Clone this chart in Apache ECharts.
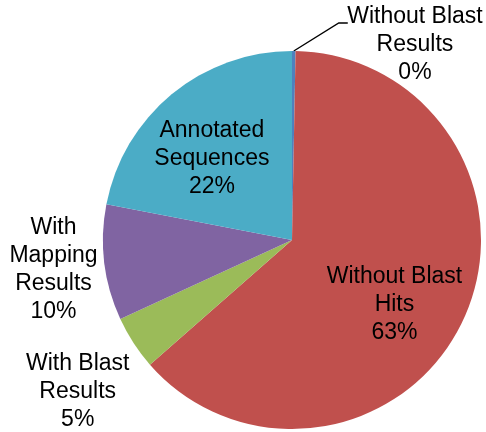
<!DOCTYPE html>
<html>
<head>
<meta charset="utf-8">
<script src="https://cdn.jsdelivr.net/npm/echarts@6/dist/echarts.min.js"></script>
<style>
  html, body { margin: 0; padding: 0; background: #fff; }
  #chart { width: 486px; height: 432px; }
</style>
</head>
<body>
<div id="chart"></div>
<script>
// Sequence categories (clockwise from 12 o'clock) and their shares
const categories = [
  'Without Blast\nResults',
  'Without Blast\nHits',
  'With Blast\nResults',
  'With\nMapping\nResults',
  'Annotated\nSequences'
];
const shares = [0.3, 63.3, 4.6, 9.9, 22.0];
const colors = ['#4F81BD', '#C0504D', '#9BBB59', '#8064A2', '#4BACC6'];

// Label placement per slice: inside or outside, plus a small nudge
const labelPositions = ['outside', 'inside', 'outside', 'outside', 'inside'];
const labelShift = [[106, 14], [14, 24], [-24, 38], [-16, 4], [-18, -6]];

const chart = echarts.init(document.getElementById('chart'), null, { renderer: 'canvas' });

const data = categories.map((name, i) => ({
  name: name,
  value: shares[i],
  itemStyle: { color: colors[i] },
  label: { position: labelPositions[i] },
  labelLine: { show: i === 0 }
}));

chart.setOption({
  animation: false,
  backgroundColor: '#ffffff',
  series: [{
    type: 'pie',
    center: [292, 240],
    radius: 189,
    startAngle: 90,
    clockwise: true,
    percentPrecision: 0,
    avoidLabelOverlap: false,
    data: data,
    itemStyle: { borderWidth: 0 },
    label: {
      formatter: '{b}\n{d}%',
      color: '#000000',
      fontFamily: '"Liberation Sans", Arial, sans-serif',
      fontSize: 23,
      lineHeight: 28,
      align: 'center'
    },
    labelLine: {
      length: 20,
      length2: 10,
      lineStyle: { color: '#000000', width: 1.4 }
    },
    labelLayout: function (params) {
      const s = labelShift[params.dataIndex];
      const out = { dx: s[0], dy: s[1], align: 'center' };
      // Leader line: slanted run from the slice edge, then a short horizontal tail
      if (params.labelLinePoints && params.dataIndex === 0) {
        const p0 = params.labelLinePoints[0];
        out.labelLinePoints = [
          [p0[0], p0[1]],
          [p0[0] + 45, p0[1] - 28],
          [p0[0] + 54, p0[1] - 28]
        ];
      }
      return out;
    }
  }]
});
</script>
</body>
</html>
